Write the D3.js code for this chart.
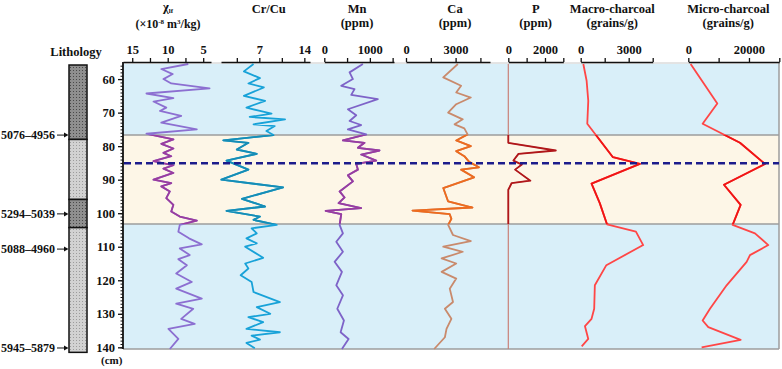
<!DOCTYPE html>
<html lang='en'>
<head>
<meta charset='UTF-8'>
<title>Core proxies</title>
<script src='https://d3js.org/d3.v7.min.js'></script>
<style>
  body { margin: 0; background: #fff; }
  svg text { font-family: 'Liberation Serif', 'Times New Roman', serif; font-weight: bold; fill: #111; }
</style>
</head>
<body>
<div id='chart'></div>
<script>
// depth (cm) / value pairs
const chiDepth = [55.5,57,58.5,60,61.3,62.8,64.3,65.7,66.7,68.5,69.5,71,73,75,76.3,78,79.3,80.7,82,83,84.5,85.7,86.7,88,90,91,92,93.5,95.5,97.5,99.5,101,102.2,103.5,105.5,107.5,109.3,110.5,112.5,113.7,115.5,118,120.5,122.5,125.5,127,128.5,131.5,133,134.5,137.5,140.5];
const chiVal = [7.1,10.9,9.3,10.6,9.5,4.1,13.0,9.2,12.0,10.2,11.1,8.1,10.9,5.9,13.0,9.2,10.9,9.2,10.6,9.5,12.0,9.2,10.6,9.2,12.0,9.5,10.9,9.7,10.2,9.2,9.5,8.3,5.9,8.3,8.5,7.0,5.2,8.3,6.9,8.5,7.3,8.8,6.6,8.8,5.2,8.8,6.4,8.1,6.2,9.9,8.5,9.7];

const crDepth = [55.5,57.7,59.7,61.3,62.5,65,66.5,68.5,69.5,70.3,71.3,72,73.5,74,75.5,76.7,78.3,79,81,82.3,84.3,87,90,92.3,95.7,98,99.3,101,102,103.5,104.5,106,107.5,109,110,113.3,115,116.5,118.5,120.5,123.5,126.5,128,130,131,132.5,134.5,135.5,136.5,137.7,138.7,140.3];
const crVal = [6.1,4.6,7.1,5.3,7.7,4.6,7.9,5.0,7.1,8.9,5.5,11.0,6.1,9.4,8.1,9.2,1.4,5.3,3.5,6.6,1.9,5.3,1.1,10.7,4.3,7.9,1.9,7.1,6.1,9.7,5.8,6.6,5.0,6.6,4.8,7.6,4.8,5.3,4.1,5.8,6.1,10.2,6.6,8.7,5.3,7.6,5.0,10.2,5.8,7.1,5.0,6.3];

const mnDepth = [55.5,58,60,62,63,64.7,66,69,70.8,72.5,73.7,75,76.5,78.3,79,80.5,81.3,82.5,84.3,85.3,87,88.7,90.5,93.5,95.3,97,98.5,99.3,100.3,103.5,106,108.5,111.5,114.5,117.5,121.5,124.5,128.5,132,135.5,137.5,140.5];
const mnVal = [847,555,628,372,664,591,1175,518,701,555,810,518,920,409,883,737,1212,810,1139,701,737,518,628,336,445,314,810,30,372,336,409,263,409,226,387,263,409,285,431,358,533,387];

const caDepth = [55.5,59.5,62,64,65.5,67.5,70,72,73.5,74.7,76.5,78.3,80,81.5,83,84.7,86.3,87,89.3,92.5,96.5,98.3,99.2,100.3,101.7,103.5,106.5,108.3,110,111.5,113.5,115,117.5,119.5,122.5,126.5,128.5,131.5,134.5,137,140.5];
const caVal = [3136,2254,3332,3038,3920,3038,2548,3430,2940,3528,3724,3038,3920,3038,3528,3822,4410,3332,4116,2254,2548,4018,392,2646,2744,2548,2842,3920,2254,3430,2156,3038,2156,3038,2646,2842,2352,2744,2450,2352,1705];

const pDepth = [55.5,79,81.3,82.3,84.3,85.5,87,90.3,91,93,140.5];
const pVal = [0,0,2590,555,278,740,370,1203,185,0,0];

const macroDepth = [55.5,60.5,66.5,73.3,83.3,85.3,91.2,97,103.3,105.5,109.5,115.5,121.5,128.5,131.5,133.7,137.5,139.7];
const macroVal = [164,370,473,411,2014,3699,678,1192,1644,3452,3905,1603,884,843,678,267,473,62];

const microDepth = [55.5,67.3,73.3,79,85.3,91.5,97.5,103.5,106,109.5,112.5,114.5,121.5,128.5,132,134,137.8,140];
const microVal = [769,9560,4725,17034,25277,11759,17254,14617,21980,26376,20332,19233,12638,7143,4725,6594,17254,4396];

// zones, marker and lithology
const bandTop = 76.7, bandBottom = 103.2, markerDepth = 85.1;
const litTop = [55.8, 78, 95.9, 104.3];
const litBottom = [78, 95.9, 104.3, 141.5];
const litType = ['dark', 'light', 'dark', 'light'];
const ageLabels = ['5076–4956', '5294–5039', '5088–4960', '5945–5879'];
const ageDepths = [76.7, 100.2, 110.7, 140.2];
const depthTicks = [60, 70, 80, 90, 100, 110, 120, 130, 140];

const W = 782, H = 369;
const plotLeft = 123, plotRight = 779, axisY = 62;

const svg = d3.select('#chart').append('svg').attr('width', W).attr('height', H);
const defs = svg.append('defs');

const y = d3.scaleLinear().domain([55.5, 140.5]).range([64, 349]);

// lithology textures
const pat = (id, bg, dot) => {
  const p = defs.append('pattern').attr('id', id).attr('width', 3).attr('height', 3).attr('patternUnits', 'userSpaceOnUse');
  p.append('rect').attr('width', 3).attr('height', 3).attr('fill', bg);
  p.append('rect').attr('x', 1).attr('y', 1).attr('width', 1).attr('height', 1).attr('fill', dot);
};
pat('dark', '#8f8f8f', '#4a4a4a');
pat('light', '#d2d2d2', '#9c9c9c');

defs.append('clipPath').attr('id', 'bandClip').append('rect')
  .attr('x', 0).attr('width', W).attr('y', y(bandTop)).attr('height', y(bandBottom) - y(bandTop));

// backgrounds
const bg = svg.append('g');
bg.append('rect').attr('x', plotLeft).attr('y', y(55.5)).attr('width', plotRight - plotLeft)
  .attr('height', y(140.5) - y(55.5)).attr('fill', '#d9eff9');
bg.append('rect').attr('x', plotLeft).attr('y', y(bandTop)).attr('width', plotRight - plotLeft)
  .attr('height', y(bandBottom) - y(bandTop)).attr('fill', '#fdf6e7');
[bandTop, bandBottom, 140.5].forEach(d => {
  bg.append('line').attr('x1', plotLeft).attr('x2', plotRight).attr('y1', y(d)).attr('y2', y(d))
    .attr('stroke', '#9c9c9c').attr('stroke-width', 1.5);
});
bg.append('line').attr('x1', plotLeft).attr('x2', plotRight).attr('y1', 63).attr('y2', 63).attr('stroke', '#c8c8c8');
bg.append('line').attr('x1', plotRight).attr('x2', plotRight).attr('y1', 63).attr('y2', y(140.5))
  .attr('stroke', '#9c9c9c').attr('stroke-width', 1.5);

// panels
const panels = [
  { name: 'chi', t1: 'χ', t2: '(×10', cx: 168, domain: [16.3, 3.9], range: [123, 211], ticks: [15, 12.5, 10, 7.5, 5], labels: [15, 10, 5], dep: chiDepth, val: chiVal, c1: '#8c6fd1', c2: '#9a3c9f', w: 1.8 },
  { name: 'cr', t1: 'Cr/Cu', t2: null, cx: 268.7, domain: [1.04, 14.88], range: [221, 310], ticks: [3.5, 7, 10.5, 14], labels: [7, 14], dep: crDepth, val: crVal, c1: '#18a2d8', c2: '#168db5', w: 1.8 },
  { name: 'mn', t1: 'Mn', t2: '(ppm)', cx: 357, domain: [0, 1530], range: [324.3, 394], ticks: [0, 500, 1000, 1500], labels: [0, 1000], dep: mnDepth, val: mnVal, c1: '#7e63c8', c2: '#9a3c9f', w: 1.8 },
  { name: 'ca', t1: 'Ca', t2: '(ppm)', cx: 455, domain: [0, 5080], range: [406, 490], ticks: [0, 1500, 3000, 4500], labels: [0, 3000], dep: caDepth, val: caVal, c1: '#c98a6c', c2: '#ee6b1e', w: 1.8 },
  { name: 'p', t1: 'P', t2: '(ppm)', cx: 535.7, domain: [0, 3000], range: [508.3, 563.3], ticks: [0, 1000, 2000, 3000], labels: [0, 2000], dep: pDepth, val: pVal, c1: '#c98078', c2: '#b0161a', w: 1.2 },
  { name: 'macro', t1: 'Macro-charcoal', t2: '(grains/g)', cx: 612.3, domain: [0, 4500], range: [580.7, 652.7], ticks: [0, 1500, 3000, 4500], labels: [0, 3000], dep: macroDepth, val: macroVal, c1: '#ff4646', c2: '#f01515', w: 1.8 },
  { name: 'micro', t1: 'Micro-charcoal', t2: '(grains/g)', cx: 728.3, domain: [0, 30000], range: [688.3, 779.3], ticks: [0, 10000, 20000, 30000], labels: [0, 20000], dep: microDepth, val: microVal, c1: '#ff4646', c2: '#f01515', w: 1.8 }
];

const curves = svg.append('g');
panels.forEach(p => {
  const x = d3.scaleLinear().domain(p.domain).range(p.range);
  const pts = p.dep.map((d, i) => ({ d: d, v: p.val[i] }));
  const line = d3.line().x(d => x(d.v)).y(d => y(d.d));
  curves.append('path').datum(pts).attr('d', line).attr('fill', 'none')
    .attr('stroke', p.c1).attr('stroke-width', p.w).attr('stroke-linejoin', 'round');
  curves.append('path').datum(pts).attr('d', line).attr('fill', 'none').attr('clip-path', 'url(#bandClip)')
    .attr('stroke', p.c2).attr('stroke-width', p.name === 'p' ? 1.8 : p.w).attr('stroke-linejoin', 'round');

  // top axis
  const ax = d3.axisTop(x).tickValues(p.ticks).tickSize(4).tickSizeOuter(0).tickPadding(4)
    .tickFormat(d => p.labels.includes(d) ? d : '');
  const g = svg.append('g').attr('transform', `translate(0, ${axisY})`).call(ax);
  g.select('.domain').attr('stroke', '#111').attr('stroke-width', 1.5);
  g.selectAll('.tick line').attr('stroke', '#111').attr('stroke-width', 1.3);
  g.selectAll('.tick text').style('font-size', '12.5px').style('font-family', "'Liberation Serif', serif").style('font-weight', 'bold').attr('fill', '#111');

  // titles
  if (p.name === 'chi') {
    const t = svg.append('text').attr('x', p.cx).attr('y', 11).attr('text-anchor', 'middle').style('font-size', '12.5px');
    t.append('tspan').text('χ');
    t.append('tspan').attr('dy', 2).style('font-size', '7px').text('lf');
    const t2 = svg.append('text').attr('x', p.cx).attr('y', 28).attr('text-anchor', 'middle').style('font-size', '12px');
    t2.append('tspan').text('(×10');
    t2.append('tspan').attr('dy', -4).style('font-size', '7px').text('-8');
    t2.append('tspan').attr('dy', 4).text(' m');
    t2.append('tspan').attr('dy', -4).style('font-size', '7px').text('3');
    t2.append('tspan').attr('dy', 4).text('/kg)');
  } else {
    svg.append('text').attr('x', p.cx).attr('y', 13).attr('text-anchor', 'middle').style('font-size', '12.5px').text(p.t1);
    if (p.t2) svg.append('text').attr('x', p.cx).attr('y', 27).attr('text-anchor', 'middle').style('font-size', '12.5px').text(p.t2);
  }
});

// marker line
svg.append('line').attr('x1', plotLeft + 1).attr('x2', plotRight).attr('y1', y(markerDepth)).attr('y2', y(markerDepth))
  .attr('stroke', '#1c1c8c').attr('stroke-width', 2.5).attr('stroke-dasharray', '7,4');

// depth axis
const yMinor = d3.axisLeft(y).tickValues(d3.range(56, 141)).tickSize(2.5).tickFormat('').tickSizeOuter(0);
const gMinor = svg.append('g').attr('transform', `translate(${plotLeft}, 0)`).call(yMinor);
gMinor.select('.domain').remove();
gMinor.selectAll('.tick line').attr('stroke', '#111');
const yAxis = d3.axisLeft(y).tickValues(depthTicks).tickSize(5).tickSizeOuter(0).tickPadding(3);
const gy = svg.append('g').attr('transform', `translate(${plotLeft}, 0)`).call(yAxis);
gy.select('.domain').attr('d', `M0,${axisY}V${y(140.5)}`).attr('stroke', '#111').attr('stroke-width', 1.8);
gy.selectAll('.tick line').attr('stroke', '#111').attr('stroke-width', 1.3);
gy.selectAll('.tick text').style('font-size', '12.5px').style('font-family', "'Liberation Serif', serif").style('font-weight', 'bold').attr('fill', '#111');
svg.append('text').attr('x', 101).attr('y', 364).style('font-size', '11px').text('(cm)');

// lithology column
svg.append('text').attr('x', 76).attr('y', 56).attr('text-anchor', 'middle').style('font-size', '12.5px').text('Lithology');
const lith = svg.append('g');
litTop.forEach((d, i) => {
  lith.append('rect').attr('x', 69).attr('width', 18).attr('y', y(d)).attr('height', y(litBottom[i]) - y(d))
    .attr('fill', `url(#${litType[i]})`).attr('stroke', '#111').attr('stroke-width', 1.5);
});
ageLabels.forEach((lab, i) => {
  const yy = y(ageDepths[i]);
  svg.append('text').attr('x', 55).attr('y', yy + 4).attr('text-anchor', 'end').style('font-size', '12px').text(lab);
  svg.append('line').attr('x1', 57).attr('x2', 65).attr('y1', yy).attr('y2', yy).attr('stroke', '#111').attr('stroke-width', 1);
  svg.append('path').attr('d', `M64,${yy - 2.5}L68.5,${yy}L64,${yy + 2.5}Z`).attr('fill', '#111');
});
</script>
</body>
</html>
